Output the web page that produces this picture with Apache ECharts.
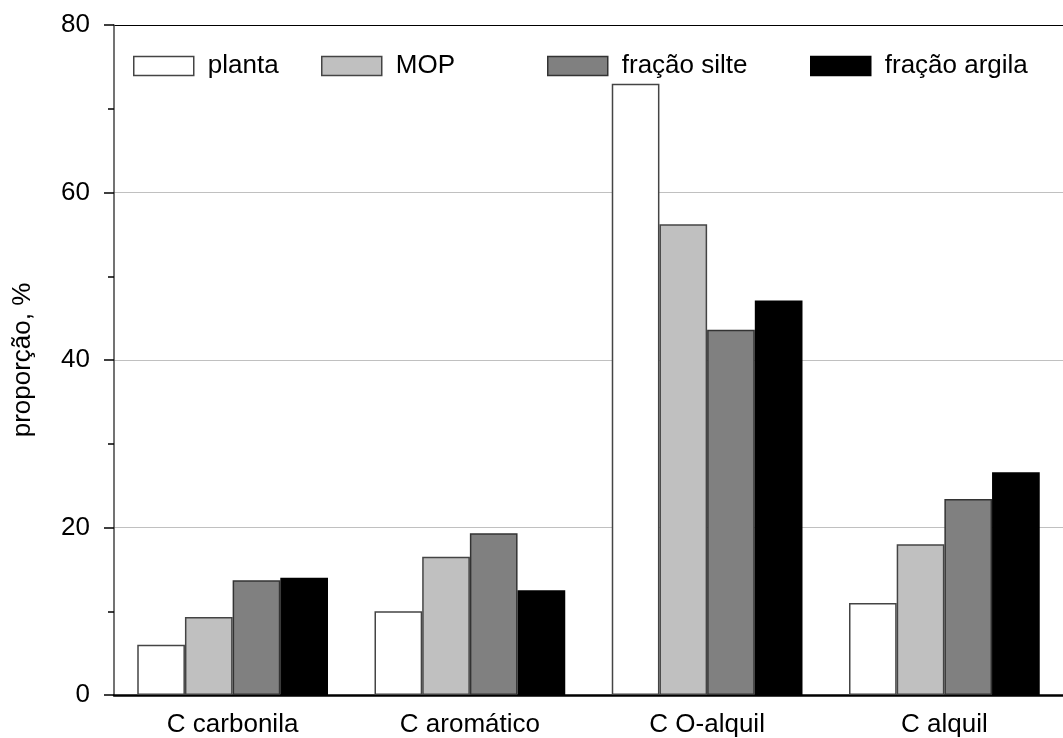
<!DOCTYPE html>
<html>
<head>
<meta charset="utf-8">
<script src="https://cdn.jsdelivr.net/npm/echarts@6/dist/echarts.min.js"></script>
<style>html,body{margin:0;padding:0;background:#fff}#c{width:1063px;height:738px}</style>
</head>
<body>
<div id="c"></div>
<script>
const categories = ['C carbonila', 'C aromático', 'C O-alquil', 'C alquil'];
const seriesNames = ['planta', 'MOP', 'fração silte', 'fração argila'];
const planta = [6.0, 10.0, 73.0, 11.0];
const mop = [9.3, 16.5, 56.2, 18.0];
const silte = [13.7, 19.3, 43.6, 23.4];
const argila = [14.0, 12.5, 47.1, 26.6];
const yTicks = [0, 20, 40, 60, 80];

const values = [planta, mop, silte, argila];
const colors = ['#ffffff', '#c0c0c0', '#808080', '#000000'];
const borders = ['#444444', '#444444', '#333333', '#000000'];
const legendLeft = [133, 321, 547, 810];
const font = 'Liberation Sans, Arial, sans-serif';

const chart = echarts.init(document.getElementById('c'), null, {renderer: 'canvas'});
chart.setOption({
  animation: false,
  backgroundColor: '#fff',
  legend: seriesNames.map((n, i) => ({
    data: [{name: n, icon: 'rect'}],
    left: legendLeft[i],
    top: 53,
    itemWidth: 60,
    itemHeight: 19,
    padding: 0,
    selectedMode: false,
    itemStyle: {borderColor: borders[i], borderWidth: 1.5},
    textStyle: {fontFamily: font, fontSize: 26, color: '#000', padding: [0, 0, 0, 9]}
  })),
  grid: {left: 114, top: 25, width: 960, height: 671, containLabel: false},
  xAxis: {
    type: 'category',
    data: categories,
    axisLine: {lineStyle: {color: '#000', width: 2.5}},
    axisTick: {show: false},
    axisLabel: {fontFamily: font, fontSize: 26, color: '#000', margin: 17},
    splitLine: {show: false}
  },
  yAxis: {
    type: 'value',
    min: 0, max: 80, interval: 20,
    name: 'proporção, %',
    nameLocation: 'middle',
    nameGap: 78,
    nameTextStyle: {fontFamily: font, fontSize: 26, color: '#000'},
    axisLine: {show: true, lineStyle: {color: '#444', width: 1.5}},
    axisTick: {show: true, length: 10, lineStyle: {color: '#000', width: 1.5}},
    minorTick: {show: true, splitNumber: 2, length: 6, lineStyle: {color: '#000', width: 1.5}},
    axisLabel: {fontFamily: font, fontSize: 26, color: '#000', margin: 24,
      formatter: v => yTicks.includes(v) ? String(v) : ''},
    splitLine: {show: true, lineStyle: {color: ['#000', '#c0c0c0', '#c0c0c0', '#c0c0c0', '#000'], width: 1.2}}
  },
  series: seriesNames.map((n, i) => ({
    name: n,
    type: 'bar',
    data: values[i],
    barGap: '0%',
    barCategoryGap: '19.6%',
    itemStyle: {color: colors[i], borderColor: borders[i], borderWidth: 1.5},
    emphasis: {disabled: true}
  }))
});
</script>
</body>
</html>
